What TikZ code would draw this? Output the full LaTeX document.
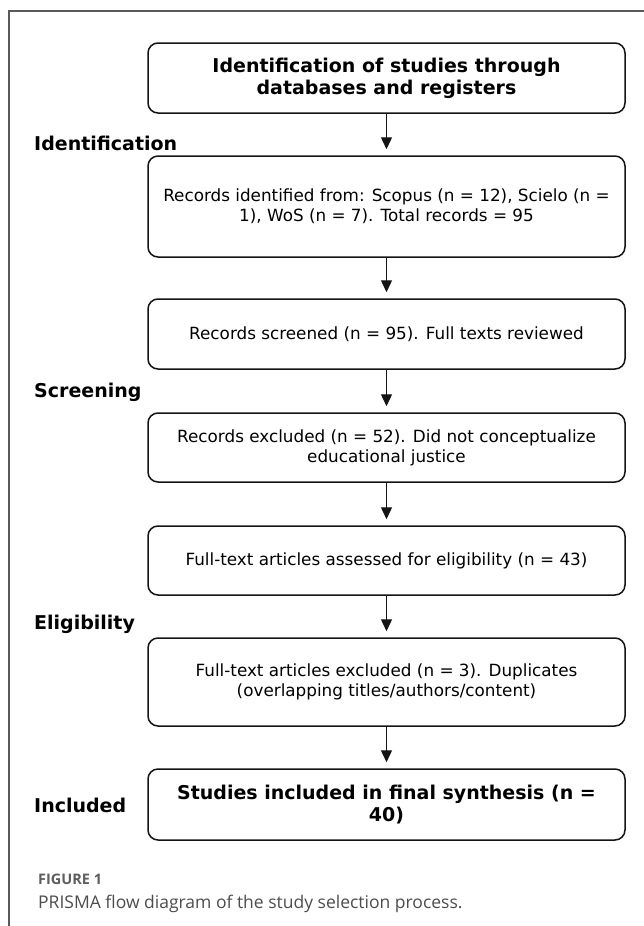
\documentclass[tikz,border=0pt]{standalone}
\usepackage{fontspec}
\setmainfont{DejaVu Sans}
\newfontfamily\capfont{Open Sans}
\usetikzlibrary{arrows.meta}
\definecolor{framegray}{HTML}{5A5A5A}
\definecolor{capgray}{HTML}{4D4D4D}
\definecolor{figgray}{HTML}{5E5E5E}
\begin{document}
\begin{tikzpicture}[x=1pt,y=-1pt,
  box/.style={draw=black!92, line width=1.5pt, rounded corners=10pt,
    minimum width=477pt, align=center, inner sep=0pt,
    font=\fontsize{16.8}{20}\selectfont},
  boldbox/.style={box, font=\fontsize{19}{22}\selectfont\bfseries},
  phase/.style={anchor=base west, inner sep=0pt, font=\fontsize{19}{22}\selectfont\bfseries},
  arr/.style={draw=black!92, line width=1.4pt, -{Triangle[length=12pt,width=11pt]}, shorten >=6pt}
]
\useasboundingbox (0,0) rectangle (644,926);
\fill[white] (0,0) rectangle (644,926);
\draw[framegray, line width=1.1pt] (9,926) -- (9,11) -- (644,11);

\node[boldbox, minimum height=70pt] (b1) at (386.5,78) {Identification of studies through\\databases and registers};
\node[box, minimum height=101pt] (b2) at (386.5,206.5) {Records identified from: Scopus (n = 12), Scielo (n =\\1), WoS (n = 7). Total records = 95};
\node[box, minimum height=70pt] (b3) at (386.5,334) {Records screened (n = 95). Full texts reviewed};
\node[box, minimum height=69pt] (b4) at (386.5,447.5) {Records excluded (n = 52). Did not conceptualize\\educational justice};
\node[box, minimum height=69pt] (b5) at (386.5,560.5) {Full-text articles assessed for eligibility (n = 43)};
\node[box, minimum height=88pt] (b6) at (386.5,682) {Full-text articles excluded (n = 3). Duplicates\\(overlapping titles/authors/content)};
\node[boldbox, minimum height=71pt] (b7) at (386.5,804.5) {Studies included in final synthesis (n =\\40)};

\draw[arr] (b1.south) -- (b2.north);
\draw[arr] (b2.south) -- (b3.north);
\draw[arr] (b3.south) -- (b4.north);
\draw[arr] (b4.south) -- (b5.north);
\draw[arr] (b5.south) -- (b6.north);
\draw[arr] (b6.south) -- (b7.north);

\node[phase] (l1) at (34,150) {Identification};
\node[phase] (l2) at (34,397) {Screening};
\node[phase] (l3) at (34,629) {Eligibility};
\node[phase] (l4) at (34,812) {Included};

\node[anchor=base west, inner sep=0pt, text=figgray, font=\capfont\bfseries\fontsize{14.5}{16}\selectfont] (fig) at (38,884) {FIGURE 1};
\node[anchor=base west, inner sep=0pt, text=capgray, font=\capfont\fontsize{17.5}{20}\selectfont] (cap) at (38,908) {PRISMA flow diagram of the study selection process.};
\end{tikzpicture}
\end{document}
